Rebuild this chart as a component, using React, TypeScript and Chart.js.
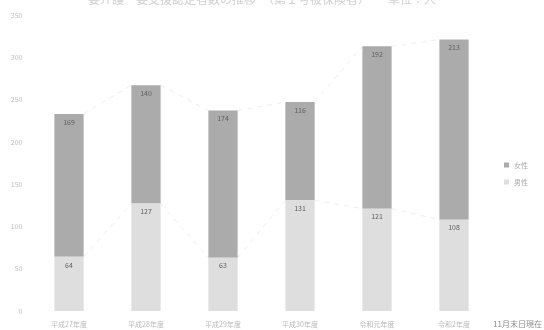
import React, { useEffect, useRef } from "react";
import { Chart, registerables } from "chart.js";

Chart.register(...registerables);

const chartTitle = "要介護・要支援認定者数の推移　（第１号被保険者）　　単位：人";
const footnote = "11月末日現在";
const categories = ["平成27年度", "平成28年度", "平成29年度", "平成30年度", "令和元年度", "令和2年度"];
const lowerLabel = "男性";
const upperLabel = "女性";
const lowerValues = [64, 127, 63, 131, 121, 108];
const upperValues = [169, 140, 174, 116, 192, 213];
const yMax = 350;
const yStep = 50;

const FONT = "'Noto Sans CJK JP', 'Noto Sans', sans-serif";

const decorPlugin = {
  id: "decor",
  beforeDatasetsDraw(chart: any) {
    const ctx = chart.ctx;
    ctx.save();
    ctx.strokeStyle = "#ededed";
    ctx.lineWidth = 1;
    ctx.setLineDash([5, 5]);
    chart.data.datasets.forEach((_: any, di: number) => {
      const els = chart.getDatasetMeta(di).data;
      for (let j = 0; j < els.length - 1; j++) {
        const a = els[j];
        const b = els[j + 1];
        ctx.beginPath();
        ctx.moveTo(a.x + a.width / 2, a.y);
        ctx.lineTo(b.x - b.width / 2, b.y);
        ctx.stroke();
      }
    });
    ctx.restore();
  },
  afterDatasetsDraw(chart: any) {
    const ctx = chart.ctx;
    ctx.save();
    ctx.font = `7px ${FONT}`;
    ctx.fillStyle = "#5e5e5e";
    ctx.textAlign = "center";
    ctx.textBaseline = "middle";
    chart.data.datasets.forEach((ds: any, di: number) => {
      const els = chart.getDatasetMeta(di).data;
      els.forEach((el: any, j: number) => {
        ctx.fillText(String(ds.data[j]), el.x, el.y + 8);
      });
    });
    ctx.font = `12px ${FONT}`;
    ctx.fillStyle = "#d0d0d0";
    ctx.textAlign = "center";
    ctx.textBaseline = "alphabetic";
    ctx.fillText(chartTitle, 262, 4);
    const items = [...chart.data.datasets].map((d: any) => ({ label: d.label, color: d.backgroundColor })).reverse();
    ctx.font = `7px ${FONT}`;
    ctx.textAlign = "left";
    ctx.textBaseline = "middle";
    items.forEach((it: any, i: number) => {
      const y = 165 + i * 17;
      ctx.fillStyle = it.color;
      ctx.fillRect(504, y - 2.5, 5, 5);
      ctx.fillStyle = "#aaa";
      ctx.fillText(it.label, 514, y);
    });
    ctx.font = `8px ${FONT}`;
    ctx.fillStyle = "#8a8a8a";
    ctx.textAlign = "right";
    ctx.fillText(footnote, 542, 324);
    ctx.restore();
  },
};

export default function App() {
  const ref = useRef<HTMLCanvasElement | null>(null);
  useEffect(() => {
    document.body.style.margin = "0";
    const chart = new Chart(ref.current as HTMLCanvasElement, {
      type: "bar",
      data: {
        labels: categories,
        datasets: [
          { label: lowerLabel, data: lowerValues, backgroundColor: "#dedede", barPercentage: 0.38, categoryPercentage: 1 },
          { label: upperLabel, data: upperValues, backgroundColor: "#ababab", barPercentage: 0.38, categoryPercentage: 1 },
        ],
      },
      options: {
        animation: false,
        responsive: false,
        maintainAspectRatio: false,
        layout: { padding: { left: 0.5, right: 51.5, top: 15, bottom: 0 } },
        plugins: { legend: { display: false }, title: { display: false }, tooltip: { enabled: false } },
        scales: {
          x: {
            stacked: true,
            grid: { display: false, drawTicks: false },
            border: { display: false },
            ticks: { padding: 9, color: "#b8b8b8", font: { size: 7, family: FONT }, maxRotation: 0 },
            afterFit: (s: any) => { s.height = 19; },
          },
          y: {
            stacked: true,
            min: 0,
            max: yMax,
            grid: { display: false, drawTicks: false },
            border: { display: false },
            ticks: { stepSize: yStep, padding: 8, color: "#bdbdbd", font: { size: 7, family: FONT } },
            afterFit: (s: any) => { s.width = 30; },
          },
        },
      },
      plugins: [decorPlugin],
    });
    return () => chart.destroy();
  }, []);
  return (
    <div style={{ width: 544, height: 330 }}>
      <canvas ref={ref} width={544} height={330} style={{ display: "block" }} />
    </div>
  );
}
